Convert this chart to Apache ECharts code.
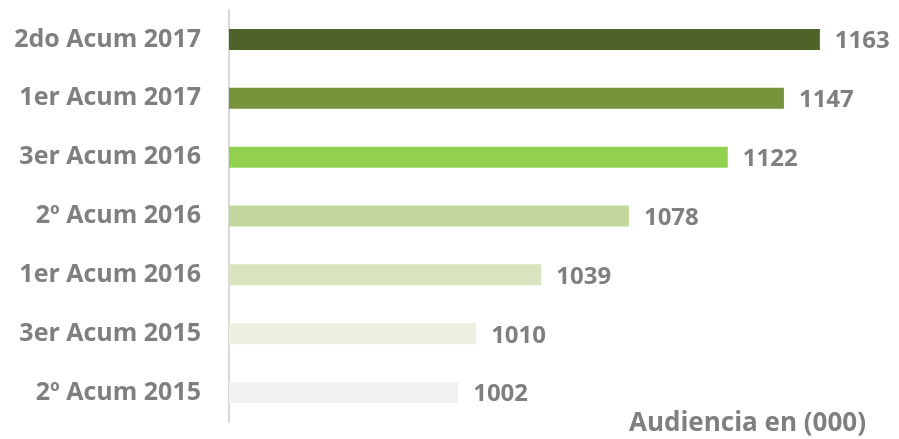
<!DOCTYPE html>
<html>
<head>
<meta charset="utf-8">
<script src="https://cdn.jsdelivr.net/npm/echarts@6/dist/echarts.min.js"></script>
<style>html,body{margin:0;padding:0;background:#fff;}#c{width:899px;height:439px;}</style>
</head>
<body>
<div id="c"></div>
<script>
var categories = ['2do Acum 2017', '1er Acum 2017', '3er Acum 2016', '2º Acum 2016', '1er Acum 2016', '3er Acum 2015', '2º Acum 2015'];
var values = [1163, 1147, 1122, 1078, 1039, 1010, 1002];
var barColors = ['#4F6228', '#77933C', '#92D050', '#C3D69B', '#D7E4BD', '#EBF1DE', '#F2F2F2'];
var axisTitle = 'Audiencia en (000)';

var chart = echarts.init(document.getElementById('c'));
var font = '"Open Sans", sans-serif';
chart.setOption({
  animation: false,
  grid: { left: 229, top: 10, width: 674, height: 412, containLabel: false, outerBoundsMode: 'none' },
  xAxis: {
    type: 'value', min: 900, max: 1200,
    show: false
  },
  yAxis: {
    type: 'category', data: categories, inverse: true,
    axisLine: { show: true, lineStyle: { color: '#D9D9D9', width: 2 } },
    axisTick: { show: false },
    axisLabel: { margin: 28, color: '#7F7F7F', fontSize: 25, fontWeight: 'bold', fontFamily: font }
  },
  series: [{
    type: 'bar',
    barWidth: 21,
    data: values.map(function (v, i) { return { value: v, itemStyle: { color: barColors[i] } }; }),
    label: { show: true, position: 'right', distance: 15, color: '#7F7F7F', fontSize: 24, fontWeight: 'bold', fontFamily: font, offset: [0, 2] }
  }],
  graphic: [{
    type: 'text', right: 33, top: 411,
    style: { text: axisTitle, fill: '#7F7F7F', font: 'bold 26px "Open Sans", sans-serif' }
  }]
});
</script>
</body>
</html>
